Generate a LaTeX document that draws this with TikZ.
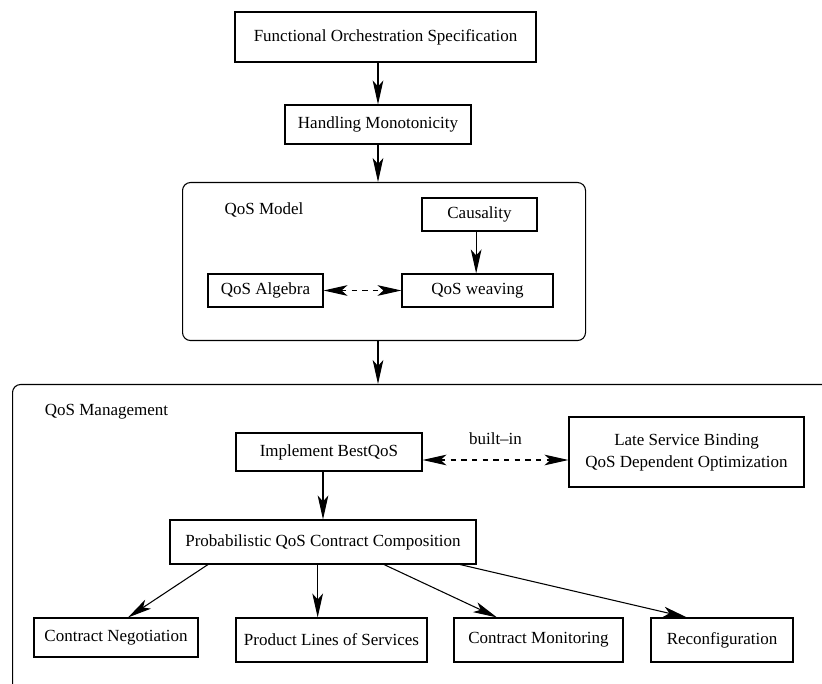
\documentclass[tikz,border=0pt]{standalone}
\usepackage{fontspec}
\setmainfont{Liberation Serif}
\usetikzlibrary{arrows.meta}
\begin{document}
\begin{tikzpicture}[x=0.75pt,y=-0.75pt,
  every node/.style={inner sep=0pt, font=\fontsize{12.75}{16.5}\selectfont},
  box/.style={draw, line width=0.8pt, align=center},
  frame/.style={draw, line width=0.8pt, rounded corners=6pt, anchor=north west},
  tip/.tip={Stealth[length=18pt,width=8pt,inset=4.5pt]},
  arr/.style={line width=0.8pt, -tip},
  darr/.style={line width=0.8pt, dash pattern=on 4pt off 4pt, tip-tip},
]
\useasboundingbox (0,0) rectangle (822,684);

% containers
\node[frame, minimum width=302.25pt, minimum height=118.5pt] (model) at (182,182) {};
\begin{scope}
  \clip (0,0) rectangle (822,684);
  \node[frame, minimum width=666pt, minimum height=300pt] (mgmt) at (12,384) {};
\end{scope}

\node (modellbl) at (264,210) {QoS Model};
\node (mgmtlbl) at (106.5,412) {QoS Management};

% boxes
\node[box, minimum width=225.75pt, minimum height=37.5pt] (func) at (385.5,37) {Functional Orchestration Specification};
\node[box, minimum width=139.5pt, minimum height=29.25pt] (hand) at (378,124.5) {Handling Monotonicity};
\node[box, minimum width=86.25pt, minimum height=24.75pt] (caus) at (479.5,214.5) {Causality};
\node[box, minimum width=113.25pt, minimum height=24.75pt] (weav) at (477.5,290.5) {QoS weaving};
\node[box, minimum width=86.25pt, minimum height=24.75pt] (alg) at (265.5,290.5) {QoS Algebra};
\node[box, minimum width=139.5pt, minimum height=28.5pt] (impl) at (329,452) {Implement BestQoS};
\node[box, minimum width=176.25pt, minimum height=52.5pt] (late) at (686.5,452) {Late Service Binding\\QoS Dependent Optimization};
\node[box, minimum width=229.5pt, minimum height=33pt] (prob) at (323,542) {Probabilistic QoS Contract Composition};
\node[box, minimum width=123pt, minimum height=29.25pt] (neg) at (116,637.5) {Contract Negotiation};
\node[box, minimum width=143.25pt, minimum height=33pt] (prod) at (331.5,640) {Product Lines of Services};
\node[box, minimum width=126.75pt, minimum height=33pt] (mon) at (538.5,640) {Contract Monitoring};
\node[box, minimum width=106.5pt, minimum height=33pt] (reco) at (722,640) {Reconfiguration};

% connectors
\draw[arr] (func.south -| hand.north) -- (hand.north);
\draw[arr] (hand.south) -- (hand.south |- model.north);
\draw[arr] (model.south -| hand.south) -- (hand.south |- mgmt.north);
\draw[arr] ([xshift=-2.5pt]caus.south) -- ([xshift=-2.5pt]caus.south |- weav.north);
\draw[darr] (alg.east) -- (weav.west);
\draw[arr] (impl.south -| prob.north) -- (prob.north);
\draw[darr] ([yshift=-6pt]impl.east) -- ([yshift=-6pt]impl.east -| late.west)
  node[midway, above=11pt] (builtin) {built--in};
\draw[arr] ([xshift=-86.25pt]prob.south) -- ([xshift=9pt]neg.north);
\draw[arr] ([xshift=-4pt]prob.south) -- ([xshift=-4pt]prob.south |- prod.north);
\draw[arr] ([xshift=45.75pt]prob.south) -- ([xshift=-31.1pt]mon.north);
\draw[arr] ([xshift=102.75pt]prob.south) -- ([xshift=-26.25pt]reco.north);
\end{tikzpicture}
\end{document}
